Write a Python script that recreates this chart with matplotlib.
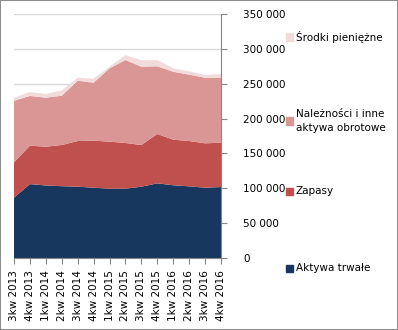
import matplotlib.pyplot as plt
import matplotlib.ticker as mtick
from matplotlib.patches import Rectangle
import numpy as np

quarters = ["3kw 2013", "4kw 2013", "1kw 2014", "2kw 2014", "3kw 2014", "4kw 2014",
            "1kw 2015", "2kw 2015", "3kw 2015", "4kw 2015", "1kw 2016", "2kw 2016",
            "3kw 2016", "4kw 2016"]

# asset structure, thousands PLN
aktywa_trwale = [86500, 106000, 104000, 103000, 102300, 100800, 99400, 99400,
                 102300, 107100, 104300, 102800, 100800, 101800]
zapasy = [50800, 55100, 55700, 59100, 65500, 67500, 67500, 65600,
          59800, 70800, 65400, 65000, 63700, 63600]
naleznosci = [88300, 71300, 70300, 70700, 86500, 83200, 105200, 119000,
              112300, 97100, 97500, 95200, 94100, 93200]
srodki = [4400, 5700, 5300, 7800, 4300, 5700, 2300, 7200,
          9200, 9000, 4900, 4800, 3900, 5400]

labels = ["Aktywa trwałe", "Zapasy", "Należności i inne\naktywa obrotowe", "Środki pieniężne"]
colors = ["#17375E", "#C0504D", "#D99694", "#F2DCDB"]

fig = plt.figure(figsize=(3.98, 3.30), dpi=100)
fig.patch.set_edgecolor("#8C8C8C")
fig.patch.set_linewidth(1.2)
ax = fig.add_axes([14 / 398, 72 / 330, 207 / 398, 244 / 330])

x = np.arange(len(quarters))
ax.stackplot(x, aktywa_trwale, zapasy, naleznosci, srodki, colors=colors, linewidth=0)

ax.set_xlim(0, len(quarters) - 1)
ax.set_ylim(0, 350000)
ax.set_yticks(np.arange(0, 350001, 50000))
ax.yaxis.set_major_formatter(mtick.FuncFormatter(lambda v, p: f"{int(v):,}".replace(",", " ")))
ax.yaxis.tick_right()
ax.grid(axis="y", color="#D9D9D9", linewidth=1)
ax.set_axisbelow(True)

ax.set_xticks(x)
ax.set_xticklabels(quarters, rotation=90)

for side in ["top", "left"]:
    ax.spines[side].set_visible(False)
for side in ["right", "bottom"]:
    ax.spines[side].set_color("#868686")
ax.tick_params(axis="both", colors="#868686", labelcolor="black", labelsize=7.5, length=4)
ax.tick_params(axis="y", pad=12)
ax.tick_params(axis="x", pad=5)

# legend entries, spaced down the right side
legend_y = [37, 121, 191, 268]
for lab, col, yy in zip(labels[::-1], colors[::-1], legend_y):
    fy = 1 - yy / 330
    fig.patches.append(Rectangle((286 / 398, fy - 3.5 / 330), 7 / 398, 7 / 330,
                                 transform=fig.transFigure, color=col))
    fig.text(296 / 398, fy, lab, fontsize=7.5, va="center", ha="left", linespacing=1.5)

fig.savefig("out.png", dpi=100)
